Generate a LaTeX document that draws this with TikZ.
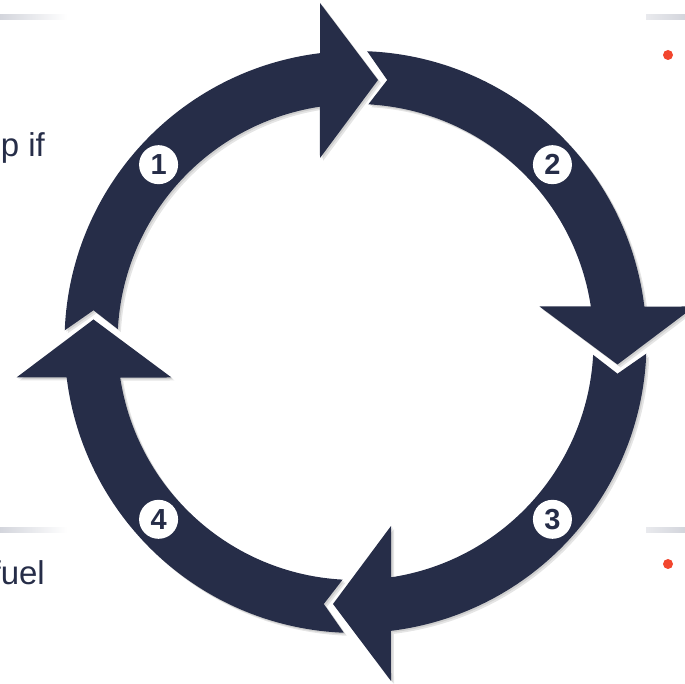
\documentclass[tikz,border=0pt]{standalone}
\usepackage{fontspec}
\setmainfont{Liberation Sans}
\definecolor{navy}{HTML}{262D48}
\definecolor{dotred}{HTML}{F2462E}
\definecolor{rulegray}{HTML}{D3D5DC}
\begin{document}
\begin{tikzpicture}[x=1pt,y=1pt,
  arrowshape/.style={fill=navy},
  shadowshape/.style={fill=black,opacity=0.10},
  numdisc/.style={circle,fill=white,minimum size=39pt,inner sep=0pt,text=navy,font=\fontsize{29}{29}\selectfont\bfseries},
  sidetext/.style={anchor=base east,text=navy,font=\fontsize{33}{33}\selectfont,inner sep=0pt},
  reddot/.style={circle,fill=dotred,minimum size=10pt,inner sep=0pt},
]
\useasboundingbox (0,0) rectangle (685,684);
\clip (0,0) rectangle (685,684);
% header rules
\shade[left color=rulegray,right color=white] (0,664) rectangle (67,669);
\shade[left color=rulegray!50,right color=rulegray] (646,664) rectangle (685,669);
\shade[left color=rulegray,right color=white] (0,151) rectangle (67,156);
\shade[left color=rulegray!50,right color=rulegray] (646,151) rectangle (685,156);
% side texts
\node[sidetext] (t1) at (45,527) {p if};
\node[sidetext] (t2) at (45,99) {fuel};
\node[reddot] (d1) at (668,629) {};
\node[reddot] (d2) at (668,120) {};
% shadows
\foreach \k in {0,1,2,3} {
  \foreach \s in {1.5,3} {
  \fill[shadowshape, shift={(355.5+\s,342-\s)}, rotate=-90*\k]
    (177.7:291) arc[start angle=177.7,end angle=97.0,radius=291]
    -- (-35.5,339) -- (22.5,262) -- (-35.5,184) -- (98.6:238)
    arc[start angle=98.6,end angle=176.9,radius=238] -- (173.1:263.9) -- cycle;
  }
}
% arrows
\foreach \k in {0,1,2,3} {
  \fill[arrowshape, shift={(355.5,342)}, rotate=-90*\k]
    (177.7:291) arc[start angle=177.7,end angle=97.0,radius=291]
    -- (-35.5,339) -- (22.5,262) -- (-35.5,184) -- (98.6:238)
    arc[start angle=98.6,end angle=176.9,radius=238] -- (173.1:263.9) -- cycle;
}
% numbers
\begin{scope}[shift={(355.5,342)}]
\node[numdisc] (n1) at (138:265) {1};
\node[numdisc] (n2) at (42:265) {2};
\node[numdisc] (n3) at (-42:265) {3};
\node[numdisc] (n4) at (-138:265) {4};
\end{scope}
\end{tikzpicture}
\end{document}
